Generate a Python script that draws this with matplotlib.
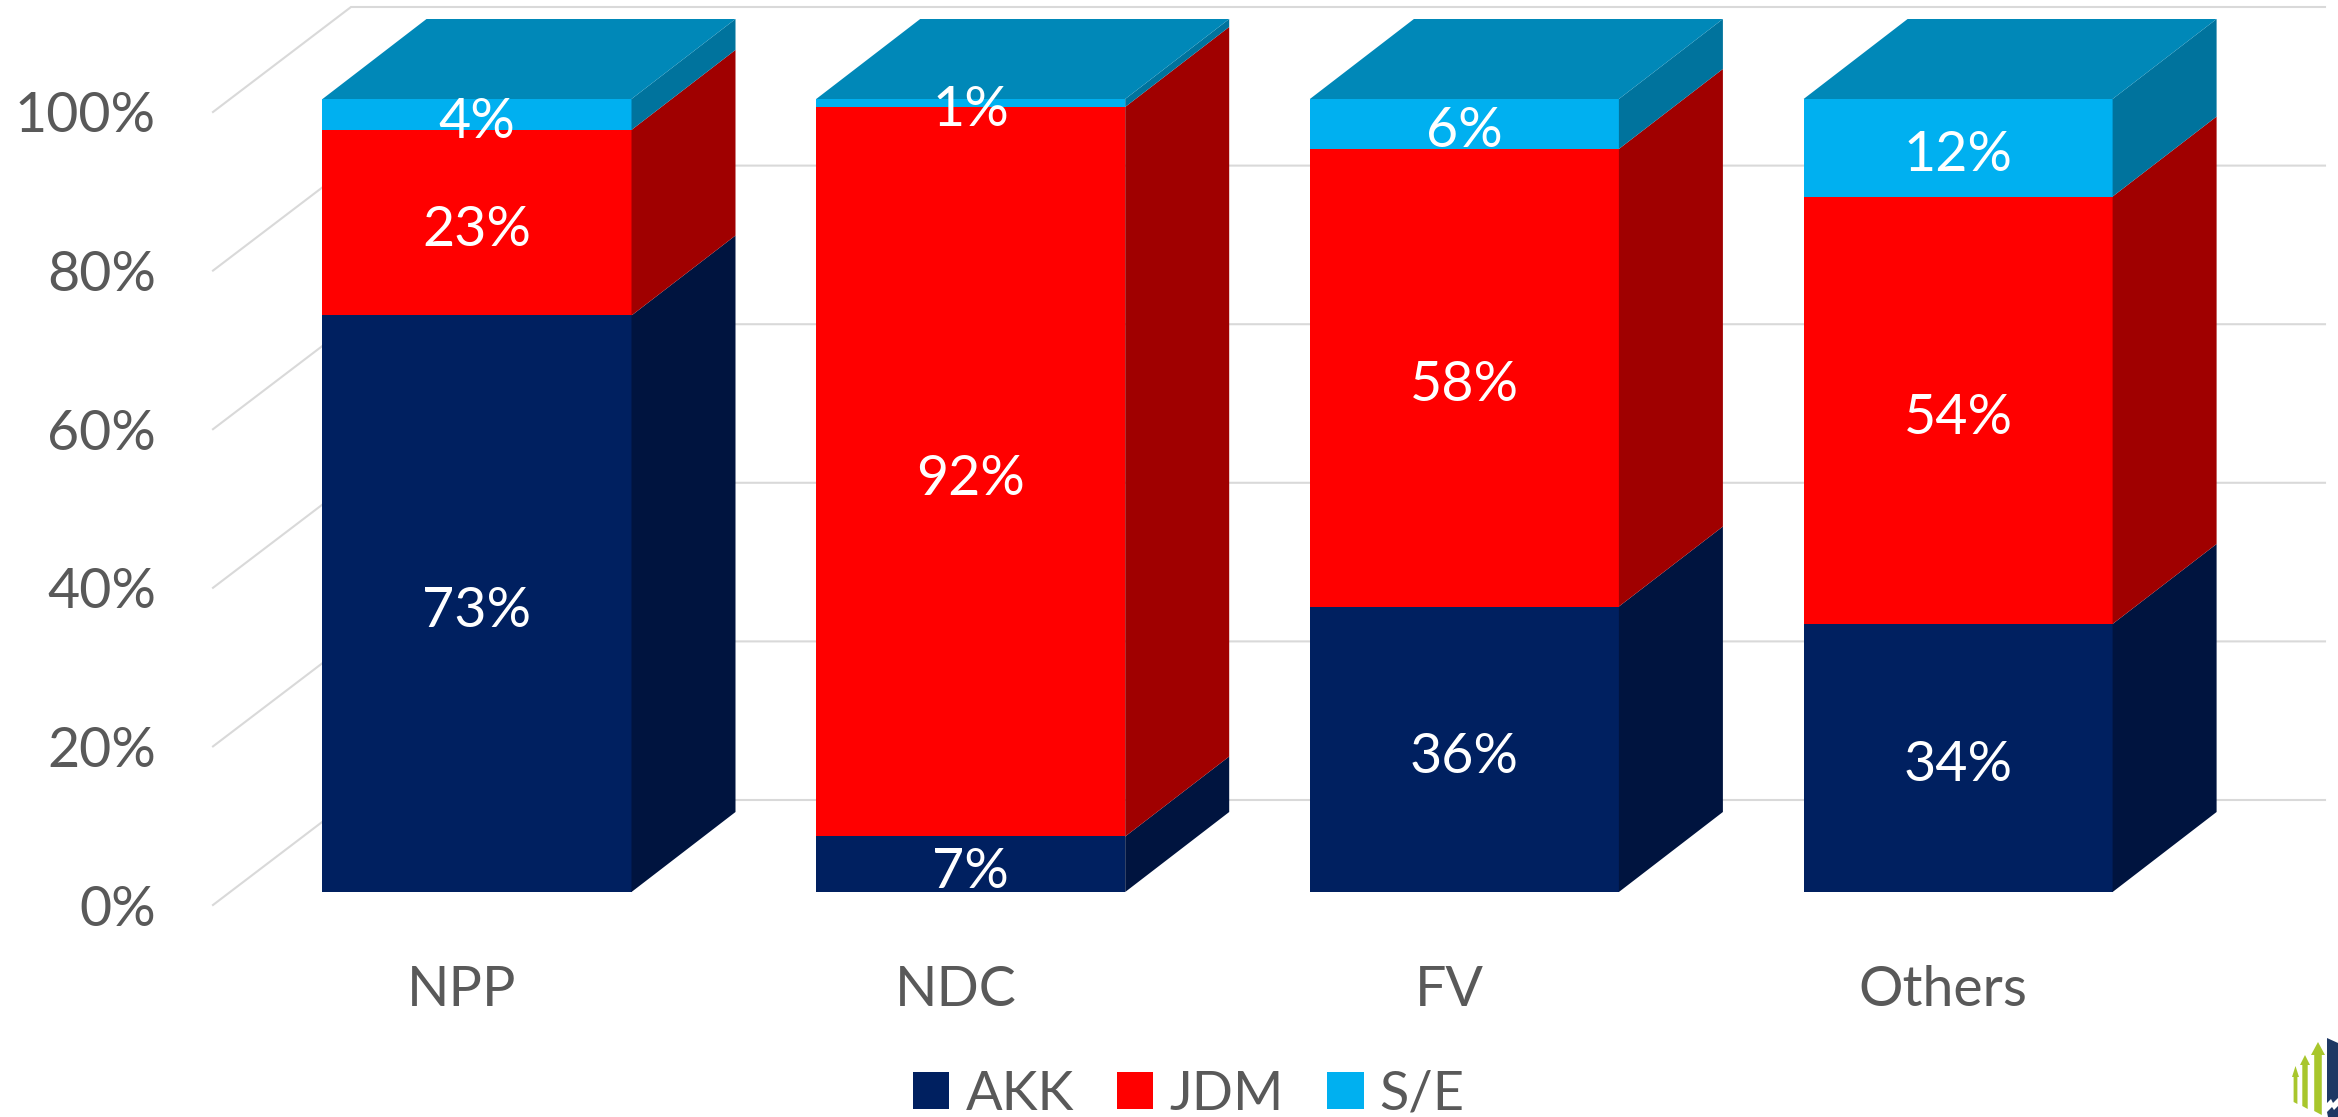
import matplotlib
matplotlib.use('Agg')
import matplotlib.pyplot as plt
from matplotlib.patches import Patch, Polygon
from matplotlib.ticker import PercentFormatter
from matplotlib.transforms import Affine2D

W, H = 2338, 1117

categories = ['NPP', 'NDC', 'FV', 'Others']
akk = [72.7, 7, 36, 33.8]
jdm = [23.4, 92, 57.7, 53.9]
se = [3.9, 1, 6.3, 12.3]
series_names = ['AKK', 'JDM', 'S/E']
y_ticks = [0, 20, 40, 60, 80, 100]

front_colors = ['#002060', '#FF0000', '#00B0F0']
side_colors = ['#00143F', '#A00000', '#00739D']
top_color = '#0088B8'
grid_color = '#D9D9D9'
text_color = '#595959'

plt.rcParams['font.family'] = ['Lato', 'DejaVu Sans']

fig = plt.figure(figsize=(W / 100, H / 100), dpi=100)

# axes = front edge of the floor / wall of the fake 3D box
left, right, bottom_px, top_px = 213, 2187, 905, 112
ax = fig.add_axes([left / W, (H - bottom_px) / H, (right - left) / W, (bottom_px - top_px) / H])

x_unit = 493.7
y_unit = (bottom_px - top_px) / 100
ax.set_xlim((left - 462) / x_unit, (right - 462) / x_unit)
ax.set_ylim(0, 100)

bar_width = 309 / x_unit
# bars stand a bit inside the box, so shift them from the wall's front edge
bar_trans = ax.transData + Affine2D().translate(15, 13)
bar_dx = 104 / x_unit
bar_dy = 80 / y_unit
wall_dx = 138 / x_unit
wall_dy = 105 / y_unit

# gridlines: diagonal on the side wall, then horizontal on the back wall
x0 = ax.get_xlim()[0]
x_end = x0 + (2325 - left) / x_unit
for t in y_ticks:
    ax.plot([x0, x0 + wall_dx, x_end], [t, t + wall_dy, t + wall_dy],
            color=grid_color, lw=1.5, clip_on=False, zorder=1, solid_joinstyle='miter')

# stacked bars with side and top faces
stacks = [akk, jdm, se]
base = [0, 0, 0, 0]
for values, name, fc, sc in zip(stacks, series_names, front_colors, side_colors):
    for i, v in enumerate(values):
        b = base[i]
        t = b + v
        xr = i + bar_width / 2
        ax.bar(i, v, bar_width, bottom=b, color=fc, transform=bar_trans, clip_on=False, zorder=3)
        ax.add_patch(Polygon([(xr, b), (xr + bar_dx, b + bar_dy), (xr + bar_dx, t + bar_dy), (xr, t)],
                             closed=True, fc=sc, ec='none', transform=bar_trans, clip_on=False, zorder=3))
        ax.text(i, b + v / 2 - 1.0, '%.0f%%' % v, color='white', fontsize=40, ha='center', va='center',
                transform=bar_trans, zorder=5)
        base[i] = t

for i, total in enumerate(base):
    xl = i - bar_width / 2
    xr = i + bar_width / 2
    ax.add_patch(Polygon([(xl, total), (xr, total), (xr + bar_dx, total + bar_dy), (xl + bar_dx, total + bar_dy)],
                         closed=True, fc=top_color, ec='none', transform=bar_trans, clip_on=False, zorder=3))

ax.set_xticks(range(len(categories)))
ax.set_xticklabels(categories)
ax.set_yticks(y_ticks)
ax.yaxis.set_major_formatter(PercentFormatter(100, decimals=0))
ax.tick_params(axis='x', length=0, pad=43, labelsize=40, labelcolor=text_color)
ax.tick_params(axis='y', length=0, pad=41, labelsize=40, labelcolor=text_color)
for s in ax.spines.values():
    s.set_visible(False)
ax.patch.set_visible(False)

handles = [Patch(facecolor=c, edgecolor='none') for c in front_colors]
fig.legend(handles, series_names, loc='center', bbox_to_anchor=(1189 / W, (H - 1094) / H),
           ncol=3, frameon=False, fontsize=39, labelcolor=text_color, borderpad=0,
           handlelength=0.667, handleheight=0.667, handletextpad=0.3, columnspacing=0.8)


# small logo cut off in the bottom right corner
def px(points):
    return [(x / W, (H - y) / H) for x, y in points]


green = '#A8C62C'
logo_navy = '#1F3864'
for xa, xb, tip, head, low1, low2 in [(2292, 2299, 1066, 1077, 1102, 1104),
                                      (2300, 2310, 1055, 1065, 1106, 1109),
                                      (2311, 2325, 1042, 1055, 1111, 1115)]:
    mid = (xa + xb) / 2
    w = (xb - xa) * 0.27
    fig.add_artist(Polygon(px([(mid, tip), (xb, head), (mid + w, head), (mid + w, low2),
                               (mid - w, low1), (mid - w, head), (xa, head)]),
                           closed=True, fc=green, ec='none', transform=fig.transFigure))
fig.add_artist(Polygon(px([(2327, 1038), (2338, 1043), (2338, 1098), (2333, 1103), (2331, 1099), (2327, 1103)]),
                       closed=True, fc=logo_navy, ec='none', transform=fig.transFigure))
fig.add_artist(Polygon(px([(2327, 1112), (2332, 1107), (2334, 1110), (2338, 1106), (2338, 1117), (2328, 1117)]),
                       closed=True, fc=logo_navy, ec='none', transform=fig.transFigure))

plt.savefig('out.png', dpi=100)
